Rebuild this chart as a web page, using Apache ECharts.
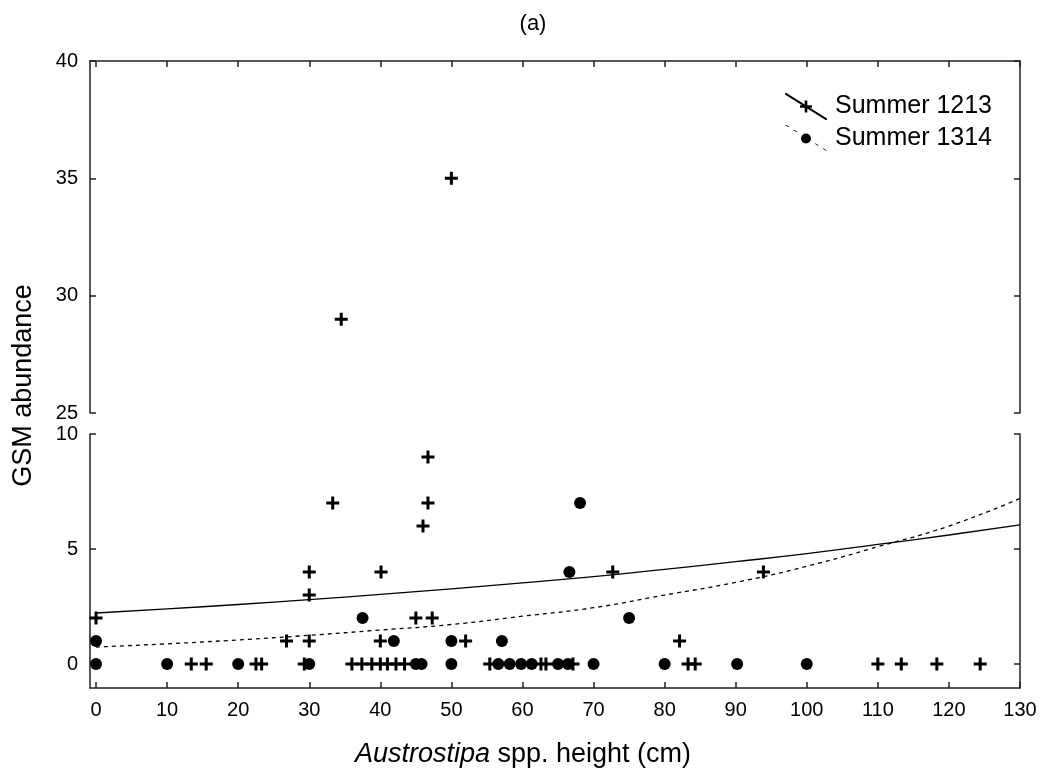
<!DOCTYPE html>
<html>
<head>
<meta charset="utf-8">
<script src="https://cdn.jsdelivr.net/npm/echarts@6/dist/echarts.min.js"></script>
<style>
  html, body { margin: 0; padding: 0; background: #fff; }
  #chart { width: 1046px; height: 771px; }
</style>
</head>
<body>
<div id="chart"></div>
<script>
  // Summer 1213 (crosses): [height, abundance]
  var summer1213 = [
    [0, 2], [13.4, 0], [15.5, 0], [22.5, 0], [23.3, 0], [26.8, 1], [29.3, 0],
    [30, 1], [30, 3], [30, 4], [33.3, 7], [34.5, 29], [36, 0], [37.4, 0],
    [38.8, 0], [40, 0], [40, 1], [40.1, 4], [41, 0], [42.2, 0], [43.4, 0],
    [45, 2], [46, 6], [46.7, 7], [46.7, 9], [47.3, 2], [50, 35], [52, 1],
    [55.4, 0], [62.6, 0], [63.3, 0], [67.1, 0], [72.7, 4], [82.1, 1],
    [83.3, 0], [84.3, 0], [93.9, 4], [110, 0], [113.3, 0], [118.3, 0], [124.4, 0]
  ];
  // Summer 1314 (dots)
  var summer1314 = [
    [0, 0], [0, 1], [10, 0], [20, 0], [30, 0], [37.5, 2], [41.9, 1], [45, 0],
    [45.8, 0], [50, 0], [50, 1], [56.6, 0], [57.1, 1], [58.2, 0], [59.8, 0],
    [61.3, 0], [65, 0], [66.4, 0], [66.6, 4], [68.1, 7], [70, 0], [75, 2],
    [80, 0], [90.2, 0], [100, 0]
  ];
  // fitted curves
  var fitX = [0, 10, 20, 30, 40, 50, 60, 70, 80, 90, 100, 110, 120, 130];
  var fit1213 = [2.22, 2.40, 2.59, 2.80, 3.03, 3.27, 3.53, 3.80, 4.12, 4.45, 4.80, 5.20, 5.61, 6.05];
  var fit1314 = [0.74, 0.88, 1.05, 1.25, 1.48, 1.72, 2.08, 2.45, 3.0, 3.55, 4.25, 5.1, 6.0, 7.2];

  var xTicks = [0, 10, 20, 30, 40, 50, 60, 70, 80, 90, 100, 110, 120, 130];
  var yTicksLow = [0, 5, 10];
  var yTicksHigh = [25, 30, 35, 40];

  var crossPath = 'path://M5,0H8V5H13V8H8V13H5V8H0V5H5Z';
  var icon1213 = 'path://M0,0L1.4,0L42,25.6L42,27L40.6,27L0,1.4Z' +
    'M19.7,7.5H22.3V12.2H27V14.8H22.3V19.5H19.7V14.8H15V12.2H19.7Z';
  var icon1314 = 'path://M0,0L1.4,0L4.6,2L3.2,2ZM8,5L9.4,5L12.6,7L11.2,7Z' +
    'M29.4,18.5L30.8,18.5L34,20.5L32.6,20.5ZM37.4,23.5L38.8,23.5L42,25.5L40.6,25.5ZM36,27L37.4,27L37.4,27Z' +
    'M16,13.5A5,5 0 1,0 26,13.5A5,5 0 1,0 16,13.5Z';

  function pairs(xs, ys) {
    return xs.map(function (x, i) { return [x, ys[i]]; });
  }
  function high(d) { return d.filter(function (p) { return p[1] >= 25; }); }
  function low(d) { return d.filter(function (p) { return p[1] <= 10; }); }

  var font = 'Liberation Sans, Arial, sans-serif';
  var lineCol = '#222';
  var axisLine = { show: true, onZero: false, lineStyle: { color: lineCol, width: 1.5 } };
  var tickIn = { inside: true, length: 6, lineStyle: { color: lineCol, width: 1.5 } };
  var lbl = { color: '#000', fontSize: 20, fontFamily: font };

  var chart = echarts.init(document.getElementById('chart'));
  chart.setOption({
    animation: false,
    backgroundColor: '#fff',
    title: {
      text: '(a)', left: 528, top: 8, textAlign: 'center',
      textStyle: { fontSize: 22, fontWeight: 'normal', color: '#000', fontFamily: font }
    },
    legend: {
      orient: 'vertical', left: 780, top: 88, itemWidth: 42, itemHeight: 27, itemGap: 5,
      selectedMode: false,
      textStyle: { fontSize: 25, color: '#000', fontFamily: font, padding: [0, 0, 0, 3] },
      data: [
        { name: 'Summer 1213', icon: icon1213, itemStyle: { color: '#000' } },
        { name: 'Summer 1314', icon: icon1314, itemStyle: { color: '#000' } }
      ]
    },
    graphic: [
      {
        type: 'text', left: 10, top: 'middle', rotation: Math.PI / 2,
        style: { text: 'GSM abundance', fill: '#000', font: '27px ' + font }
      },
      {
        type: 'text', left: 'center', top: 741,
        style: {
          text: '{i|Austrostipa} spp. height (cm)', fill: '#000', font: '27px ' + font,
          rich: { i: { fontStyle: 'italic', fontSize: 27, fontFamily: font, fill: '#000' } }
        }
      }
    ],
    grid: [
      { left: 90, right: 26, top: 61, height: 352 },
      { left: 90, right: 26, top: 434, bottom: 83 }
    ],
    xAxis: [
      {
        gridIndex: 0, type: 'value', position: 'top', min: -0.85, max: 130,
        axisLine: axisLine, splitLine: { show: false },
        axisTick: Object.assign({ customValues: xTicks }, tickIn),
        axisLabel: { show: false }
      },
      {
        gridIndex: 1, type: 'value', position: 'bottom', min: -0.85, max: 130,
        axisLine: axisLine, splitLine: { show: false },
        axisTick: Object.assign({ customValues: xTicks }, tickIn),
        axisLabel: Object.assign({ customValues: xTicks, margin: 12 }, lbl)
      }
    ],
    yAxis: [
      {
        gridIndex: 0, type: 'value', position: 'left', min: 25, max: 40,
        axisLine: axisLine, splitLine: { show: false },
        axisTick: Object.assign({ customValues: yTicksHigh }, tickIn),
        axisLabel: Object.assign({ customValues: yTicksHigh, margin: 12 }, lbl)
      },
      {
        gridIndex: 0, type: 'value', position: 'right', min: 25, max: 40,
        axisLine: axisLine, splitLine: { show: false },
        axisTick: Object.assign({ customValues: yTicksHigh }, tickIn),
        axisLabel: { show: false }
      },
      {
        gridIndex: 1, type: 'value', position: 'left', min: -1.04, max: 10,
        axisLine: axisLine, splitLine: { show: false },
        axisTick: Object.assign({ customValues: yTicksLow }, tickIn),
        axisLabel: Object.assign({ customValues: yTicksLow, margin: 12 }, lbl)
      },
      {
        gridIndex: 1, type: 'value', position: 'right', min: -1.04, max: 10,
        axisLine: axisLine, splitLine: { show: false },
        axisTick: Object.assign({ customValues: yTicksLow }, tickIn),
        axisLabel: { show: false }
      }
    ],
    series: [
      {
        name: 'Summer 1213', type: 'line', xAxisIndex: 1, yAxisIndex: 2,
        data: pairs(fitX, fit1213), showSymbol: false, smooth: true,
        lineStyle: { color: '#000', width: 1.3 }, itemStyle: { color: '#000' }
      },
      {
        name: 'Summer 1314', type: 'line', xAxisIndex: 1, yAxisIndex: 2,
        data: pairs(fitX, fit1314), showSymbol: false, smooth: true,
        lineStyle: { color: '#000', width: 1.3, type: [4, 4] }, itemStyle: { color: '#000' }
      },
      {
        name: 'Summer 1314', type: 'scatter', xAxisIndex: 1, yAxisIndex: 2,
        data: low(summer1314), symbol: 'circle', symbolSize: 12,
        itemStyle: { color: '#000', opacity: 1 }
      },
      {
        name: 'Summer 1314', type: 'scatter', xAxisIndex: 0, yAxisIndex: 0,
        data: high(summer1314), symbol: 'circle', symbolSize: 12,
        itemStyle: { color: '#000', opacity: 1 }
      },
      {
        name: 'Summer 1213', type: 'scatter', xAxisIndex: 1, yAxisIndex: 2,
        data: low(summer1213), symbol: crossPath, symbolSize: 13,
        itemStyle: { color: '#000', opacity: 1 }
      },
      {
        name: 'Summer 1213', type: 'scatter', xAxisIndex: 0, yAxisIndex: 0,
        data: high(summer1213), symbol: crossPath, symbolSize: 13,
        itemStyle: { color: '#000', opacity: 1 }
      }
    ]
  });
</script>
</body>
</html>
